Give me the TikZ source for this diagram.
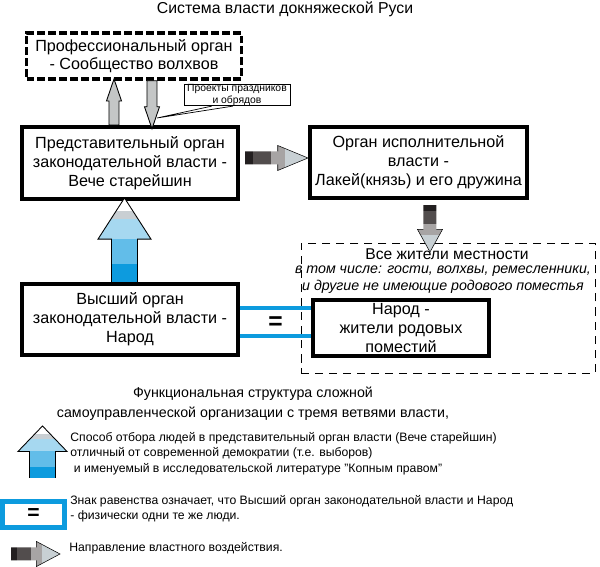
\documentclass[tikz,border=0pt]{standalone}
\usepackage{fontspec}
\setmainfont{Liberation Sans}
\usepackage{tikz}
\usepackage{xcolor}
\usetikzlibrary{positioning, calc}

\definecolor{kopblue}{HTML}{0D9BDE}
\definecolor{kopmid}{HTML}{62BDE9}
\definecolor{koplight}{HTML}{A6D8F0}
\definecolor{kopgrey}{HTML}{C9CFD3}
\definecolor{powblack}{HTML}{231F20}
\definecolor{powdark}{HTML}{524D4D}
\definecolor{powgrey}{HTML}{A7A4A4}
\definecolor{powlight}{HTML}{C8D0D4}
\definecolor{plaingrey}{HTML}{C4C6C6}

% arrow of power: start, angle, length
\newcommand{\powerarrow}[3]{%
  \begin{scope}[shift={#1}, rotate=#2]
    \begin{scope}
      \clip (0,-6.5) -- ({0.52*#3},-6.5) -- ({0.52*#3},-12.5) -- (#3,0) -- ({0.52*#3},12.5) -- ({0.52*#3},6.5) -- (0,6.5) -- cycle;
      \fill[powblack] (0,-13) rectangle ({0.13*#3},13);
      \fill[powdark] ({0.13*#3},-13) rectangle ({0.41*#3},13);
      \fill[powgrey] ({0.41*#3},-13) rectangle ({0.64*#3},13);
      \fill[powlight] ({0.64*#3},-13) rectangle (#3,13);
    \end{scope}
    \draw[line width=0.3pt] ({0.52*#3},-6.5) -- ({0.52*#3},-12.5) -- (#3,0) -- ({0.52*#3},12.5) -- ({0.52*#3},6.5);
  \end{scope}}

% kopnoe arrow (upwards): start, length, shaft half width, head half width
\newcommand{\kopnarrow}[4]{%
  \begin{scope}[shift={#1}]
    \begin{scope}
      \clip (-#3,0) -- (-#3,{0.51*#2}) -- (-#4,{0.51*#2}) -- (0,#2) -- (#4,{0.51*#2}) -- (#3,{0.51*#2}) -- (#3,0) -- cycle;
      \fill[kopblue] (-#4,0) rectangle (#4,{0.22*#2});
      \fill[kopmid] (-#4,{0.22*#2}) rectangle (#4,{0.51*#2});
      \fill[koplight] (-#4,{0.51*#2}) rectangle (#4,{0.75*#2});
      \fill[kopgrey] (-#4,{0.75*#2}) rectangle (#4,{0.85*#2});
      \fill[white] (-#4,{0.85*#2}) rectangle (#4,#2);
    \end{scope}
    \draw[line width=0.5pt] (-#3,0) -- (-#3,{0.51*#2}) -- (-#4,{0.51*#2}) -- (0,#2) -- (#4,{0.51*#2}) -- (#3,{0.51*#2}) -- (#3,0);
  \end{scope}}

% plain grey arrow: start, angle, length
\newcommand{\greyarrow}[3]{%
  \begin{scope}[shift={#1}, rotate=#2]
    \draw[line width=0.5pt, fill=plaingrey] (0,-5) -- ({#3-22},-5) -- ({#3-22},-7.5) -- (#3,0) -- ({#3-22},7.5) -- ({#3-22},5) -- (0,5) -- cycle;
  \end{scope}}

\begin{document}
\begin{tikzpicture}[x=0.02cm, y=0.02cm,
    organ/.style={rectangle, draw=black, line width=2.3pt, fill=white, align=center, inner sep=0pt, minimum width=4.32cm, minimum height=1.44cm, font=\fontsize{9.2}{10.8}\selectfont},
    volhvbox/.style={rectangle, draw=black, line width=2pt, dash pattern=on 4.5pt off 1.7pt, align=center, inner sep=0pt, minimum width=4.3cm, minimum height=0.92cm, font=\fontsize{9.2}{10.4}\selectfont},
    allbox/.style={rectangle, draw=black, line width=0.5pt, dash pattern=on 4.6pt off 3.4pt, minimum width=5.88cm, minimum height=2.6cm, inner sep=0pt},
    projbox/.style={rectangle, draw=black, line width=0.5pt, fill=white, align=center, inner sep=0pt, minimum width=2.12cm, minimum height=0.42cm, font=\fontsize{5.9}{6.9}\selectfont},
    blueline/.style={draw=kopblue, line width=2.2pt},
    legend/.style={anchor=west, align=left, inner sep=0pt, font=\fontsize{6.95}{8.8}\selectfont},
    caption/.style={align=center, inner sep=0pt, font=\fontsize{8.1}{11.2}\selectfont}
]
    \useasboundingbox (0,0) rectangle (600,-567);

    \node[inner sep=0pt, font=\fontsize{9}{10}\selectfont] (title) at (285,-9) {Система власти докняжеской Руси};

    \node[allbox] (all) at (448,-308) {};
    \node[inner sep=0pt, font=\fontsize{8.9}{10}\selectfont] (allhead) at (447,-254.5) {Все жители местности};
    \node[inner sep=0pt, align=center, font=\itshape\fontsize{8.1}{9.4}\selectfont] (allnote) at (443,-279.5) {в том числе: гости, волхвы, ремесленники,\\и другие не имеющие родового поместья};

    \node[volhvbox] (volhv) at (134,-56) {Профессиональный орган\\- Сообщество волхвов};
    \node[organ] (vece) at (130,-163) {Представительный орган\\законодательной власти -\\Вече старейшин};
    \node[organ, minimum width=4.34cm, minimum height=1.42cm] (exec) at (418.5,-162.5) {Орган исполнительной\\власти -\\Лакей(князь) и его дружина};
    \node[organ, minimum height=1.42cm] (vysshiy) at (130,-319.5) {Высший орган\\законодательной власти -\\Народ};
    \node[organ, line width=2pt, minimum width=3.52cm, minimum height=1.12cm] (narod) at (401,-328) {Народ -\\жители родовых\\поместий};

    % people = supreme organ
    \draw[blueline] ([yshift=0.23cm]vysshiy.east) -- ([yshift=0.23cm]vysshiy.east -| narod.west);
    \draw[blueline] ([yshift=-0.33cm]vysshiy.east) -- ([yshift=-0.33cm]vysshiy.east -| narod.west);
    \node[inner sep=0pt, font=\bfseries\fontsize{14}{14}\selectfont] (eq) at (275.5,-323) {=};

    % arrows between the organs
    \greyarrow{($(vece.north)+(-16,0)$)}{90}{46}
    \greyarrow{($(volhv.south)+(18,0)$)}{-90}{48}
    \powerarrow{($(vece.east)+(5,5)$)}{0}{63}
    \powerarrow{($(exec.south)+(11.5,-5)$)}{-90}{47}
    \kopnarrow{($(vysshiy.north)+(-5.5,0)$)}{84}{13}{26.5}

    % projects of feasts
    \node[projbox] (proj) at (237,-95) {Проекты праздников\\и обрядов};
    \coordinate (projtip) at (157,-118);
    \draw[line width=0.4pt, fill=white] ([xshift=16]proj.south west) -- (projtip) -- ([xshift=28]proj.south west);

    \node[caption] (capt) at (253,-403.5) {Функциональная структура сложной\\самоуправленческой организации с тремя ветвями власти,};

    % legend
    \kopnarrow{(42.5,-478)}{52}{13}{24.5}
    \node[legend] (leg1) at (70,-453.5) {Способ отбора людей в представительный орган власти (Вече старейшин)\\отличный от современной демократии (т.е. выборов)\\\hspace{2pt}и именуемый в исследовательской литературе "Копным правом"};

    \node[rectangle, draw=kopblue, line width=2.8pt, minimum width=1.24cm, minimum height=0.52cm, inner sep=0pt, font=\bfseries\fontsize{12}{12}\selectfont] (legeq) at (33.5,-514.5) {=};
    \node[legend] (leg2) at (70,-509) {Знак равенства означает, что Высший орган законодательной власти и Народ\\- физически одни те же люди.};

    \powerarrow{(11,-554)}{0}{49}
    \node[legend] (leg3) at (69,-548) {Направление властного воздействия.};
\end{tikzpicture}
\end{document}
